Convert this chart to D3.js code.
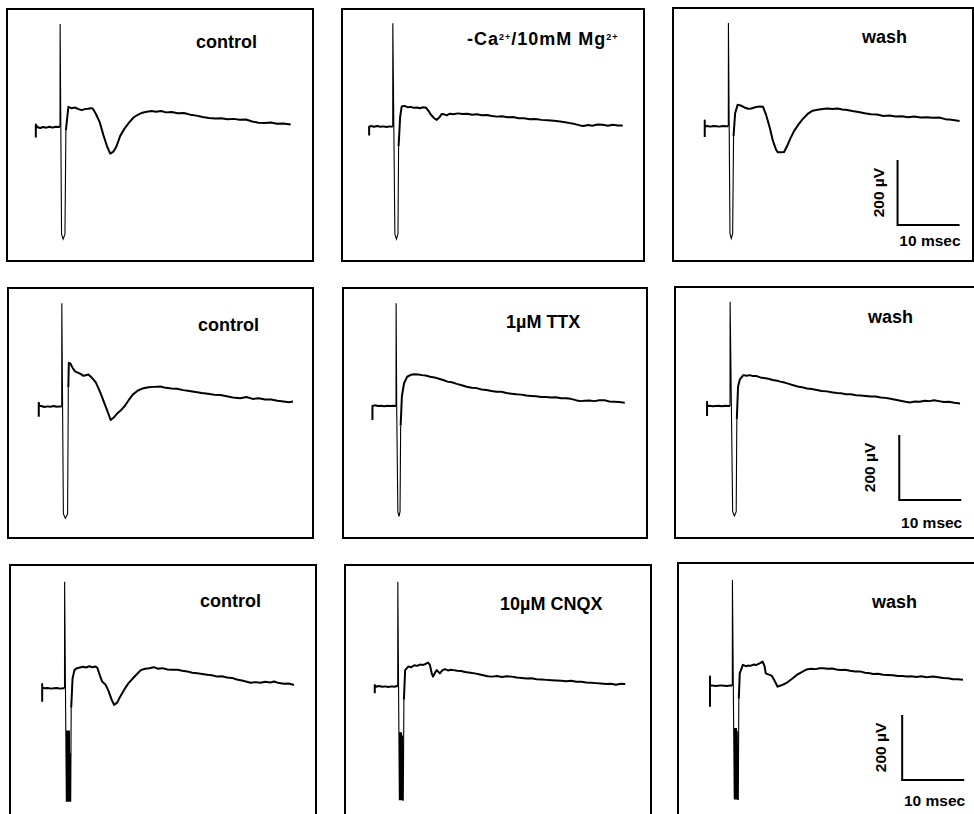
<!DOCTYPE html>
<html>
<head>
<meta charset="utf-8">
<script src="https://cdn.jsdelivr.net/npm/d3@7"></script>
<style>
body { margin: 0; background: #fff; }
svg { display: block; }
text { font-family: "Liberation Sans", Arial, Helvetica, sans-serif; font-weight: bold; fill: #000; }
</style>
</head>
<body>
<script>
// conditions, row by row (control / drug / wash)
var labels = ["control", "-Ca2+/10mM Mg2+", "wash",
              "control", "1\u00b5M TTX", "wash",
              "control", "10\u00b5M CNQX", "wash"];

// field potentials, [msec, µV], stimulus at t = 0; null = gap for the artifact
var traceCtl1 = [[-3.9,-32],[-3.9,8],[-3.7,0],[-3.2,-3],[-2.7,0],[-2.2,-2],[-1.7,1],[-1.2,-2],[-0.7,1],[-0.2,0],[0,2],null,
  [0.95,-10],[1.35,62],[1.8,58],[2.4,60],[3.0,55],[3.5,52],[4.0,55],[4.5,56],[5.0,58],[5.3,56],[5.8,40],[6.4,15],[7.0,-25],[7.6,-60],
  [8.1,-82],[8.6,-76],[9.1,-60],[9.7,-28],[10.4,-5],[11.2,15],[11.9,30],[12.6,38],[13.3,44],[14.0,47],[14.8,49],[15.5,47],[16.3,49],
  [17.1,45],[18.0,46],[19.0,42],[20.0,43],[21.0,38],[22.0,35],[23.0,31],[24.0,28],[25.0,26],[26.0,27],[27.0,24],[28.0,25],[29.0,22],
  [30.0,23],[31.0,17],[32.0,13],[33.0,12],[34.0,14],[35.0,10],[36.0,11],[37.2,8]];
var traceCaMg = [[-3.8,-27],[-3.8,0],[-3.5,2],[-3,0],[-2.5,2],[-2,0],[-1.5,1],[-1,-1],[-0.5,1],[0,0],null,
  [0.95,-60],[1.2,30],[1.45,62],[1.9,64],[2.4,60],[2.9,61],[3.4,58],[3.9,59],[4.4,57],[4.9,60],[5.4,58],[5.8,48],[6.2,36],[6.7,26],
  [7.1,21],[7.5,28],[7.9,39],[8.3,38],[8.7,35],[9.2,40],[9.8,38],[10.5,41],[11.3,39],[12.0,40],[12.8,37],[13.6,38],[14.4,35],[15.2,36],
  [16.0,33],[16.8,31],[17.6,32],[18.5,29],[19.4,30],[20.3,26],[21.2,26],[22.1,23],[23.0,24],[24.0,21],[25.0,20],[26.0,18],[27.0,16],
  [27.8,14],[28.6,11],[29.4,8],[30.2,4],[30.8,2],[31.5,5],[32.2,3],[33.0,7],[33.9,6],[34.7,3],[35.5,6],[36.3,4],[37.1,4]];
var traceWash1 = [[-3.8,-33],[-3.8,18],[-3.8,0],[-3.4,1],[-2.9,-1],[-2.4,1],[-1.9,0],[-1.4,-1],[-0.9,1],[-0.4,0],[0,0],null,
  [0.85,-30],[1.1,40],[1.5,66],[2.0,64],[2.6,58],[3.2,54],[3.7,55],[4.2,58],[4.7,60],[5.2,61],[5.6,60],[6.1,35],[6.7,-5],[7.2,-45],
  [7.7,-72],[8.0,-80],[8.5,-80],[9.0,-79],[9.5,-60],[10.0,-38],[10.6,-15],[11.3,5],[12.0,22],[12.8,38],[13.6,48],[14.4,51],[15.2,53],
  [16.0,55],[16.8,53],[17.6,55],[18.4,52],[19.2,50],[20.0,47],[21.0,44],[22.0,40],[23.0,37],[24.0,36],[25.0,32],[26.0,33],[27.0,30],
  [28.0,31],[29.0,28],[30.0,30],[31.0,27],[32.0,28],[33.0,26],[34.0,27],[35.0,22],[36.0,20],[37.3,16]];
var traceCtl2 = [[-3.7,-31],[-3.7,12],[-3.6,2],[-3.3,2],[-2.8,-1],[-2.3,1],[-1.8,0],[-1.3,2],[-0.8,0],[-0.3,1],[0,1],null,
  [1.07,60],[1.15,135],[1.4,133],[1.8,118],[2.2,108],[2.7,104],[3.1,100],[3.5,95],[3.9,97],[4.3,99],[4.7,92],[5.1,84],[5.5,75],[5.9,58],
  [6.3,40],[6.8,15],[7.3,-10],[7.9,-41],[8.3,-35],[8.9,-22],[9.5,-12],[10.2,3],[10.8,20],[11.5,38],[12.3,50],[13.2,57],[14.0,60],
  [14.9,61],[15.9,62],[16.8,58],[17.7,56],[18.6,55],[19.6,51],[20.6,48],[21.6,45],[22.6,42],[23.6,40],[24.6,37],[25.6,36],[26.6,32],
  [27.6,28],[28.8,26],[29.8,30],[30.8,24],[31.8,26],[32.8,22],[33.8,22],[34.8,18],[35.8,16],[36.6,14],[37.3,16]];
var traceTTX = [[-3.8,-43],[-3.8,0],[-3.4,2],[-2.9,0],[-2.4,1],[-1.9,-1],[-1.4,1],[-0.9,0],[-0.4,1],[0,0],null,
  [0.75,-60],[0.95,30],[1.3,70],[1.8,90],[2.4,96],[3.0,98],[3.6,97],[4.2,95],[4.8,94],[5.5,90],[6.2,88],[6.9,84],[7.6,80],[8.3,75],
  [9.0,73],[9.8,68],[10.6,64],[11.4,59],[12.2,56],[13.0,55],[13.8,51],[14.6,49],[15.4,46],[16.2,44],[17.0,44],[17.8,40],[18.6,38],
  [19.4,36],[20.2,35],[21.0,32],[21.8,31],[22.6,30],[23.4,28],[24.2,28],[25.0,26],[25.8,27],[26.6,24],[27.4,24],[28.2,22],[29.0,18],
  [29.7,15],[30.4,16],[31.2,17],[32.0,15],[32.8,18],[33.6,18],[34.4,14],[35.2,13],[36.0,12],[36.9,10]];
var traceWash2 = [[-3.7,-31],[-3.7,13],[-3.7,0],[-3.3,1],[-2.8,-1],[-2.3,0],[-1.8,1],[-1.3,-1],[-0.8,1],[-0.3,0],[0,0],null,
  [1.1,-40],[1.3,60],[1.6,82],[2.15,95],[2.7,93],[3.2,95],[3.7,92],[4.3,92],[4.9,88],[5.5,86],[6.2,84],[6.9,80],[7.6,78],[8.1,75],
  [8.8,72],[9.5,68],[10.2,64],[10.9,60],[11.6,58],[12.4,54],[13.2,52],[14.0,49],[14.8,46],[15.6,45],[16.4,42],[17.2,40],[17.9,39],
  [18.7,36],[19.5,36],[20.3,33],[21.1,32],[21.9,31],[22.7,29],[23.5,29],[24.3,26],[25.1,25],[25.9,22],[26.7,19],[27.5,16],[28.3,13],
  [29.0,11],[29.8,14],[30.6,13],[31.4,16],[32.2,15],[32.9,18],[33.7,15],[34.5,12],[35.3,13],[36.2,10],[37.1,8]];
var traceCtl3 = [[-3.6,-41],[-3.6,13],[-3.6,2],[-3.2,0],[-2.7,1],[-2.2,-1],[-1.7,0],[-1.2,1],[-0.7,-1],[-0.2,0],[0,0],null,
  [1.08,-60],[1.3,30],[1.6,56],[2.0,62],[2.5,64],[3.0,66],[3.5,64],[4.0,68],[4.5,65],[5.0,67],[5.3,63],[5.7,40],[6.1,20],[6.6,12],
  [7.1,-8],[7.6,-35],[8.0,-51],[8.5,-44],[9.0,-25],[9.6,-5],[10.3,15],[11.0,30],[11.7,44],[12.3,56],[13.0,60],[13.7,62],[14.4,65],
  [15.1,60],[15.8,62],[16.6,58],[17.4,57],[18.2,57],[19.0,54],[19.8,52],[20.6,48],[21.4,46],[22.2,44],[23.0,42],[23.8,40],[24.6,36],
  [25.4,37],[26.2,33],[27.0,32],[27.8,27],[28.6,24],[29.4,20],[30.0,17],[30.8,19],[31.6,17],[32.4,20],[33.2,18],[33.8,21],[34.6,16],
  [35.4,14],[36.2,15],[37.0,10]];
var traceCNQX = [[-3.7,-20],[-3.7,5],[-3.5,0],[-3.0,2],[-2.5,0],[-2.0,1],[-1.5,-1],[-1.0,1],[-0.5,0],[-0.2,2],[0,0],null,
  [1.0,-40],[1.2,51],[1.7,62],[2.2,60],[2.7,66],[3.1,64],[3.6,68],[4.1,67],[4.5,70],[4.9,74],[5.2,67],[5.5,40],[5.7,31],[6.0,42],
  [6.3,51],[6.8,41],[7.2,50],[7.6,54],[8.1,50],[8.6,52],[9.0,51],[9.6,49],[10.2,48],[10.9,45],[11.7,43],[12.4,41],[13.1,38],[13.8,35],
  [14.5,32],[15.2,31],[16.0,33],[16.8,30],[17.6,32],[18.4,31],[19.2,28],[20.0,27],[20.8,25],[21.6,26],[22.4,23],[23.2,22],[24.0,21],
  [24.8,20],[25.6,19],[26.4,18],[27.2,17],[28.0,18],[28.8,15],[29.6,15],[30.4,13],[31.2,12],[32.0,11],[32.8,10],[33.6,8],[34.4,9],
  [35.2,6],[36.0,9],[36.7,8]];
var traceWash3 = [[-3.6,-65],[-3.6,28],[-3.6,0],[-3.3,1],[-2.8,-1],[-2.3,0],[-1.8,1],[-1.3,0],[-0.8,-1],[-0.3,1],[0,0],null,
  [1.05,-40],[1.2,38],[1.7,64],[2.2,60],[2.6,62],[2.9,61],[3.4,65],[3.9,64],[4.4,69],[4.9,74],[5.2,60],[5.4,38],[5.9,34],[6.4,30],
  [6.9,12],[7.3,-3],[7.7,0],[8.0,2],[8.5,6],[9.0,12],[9.7,22],[10.4,33],[11.2,42],[12.0,50],[12.7,52],[13.4,51],[14.1,54],[14.7,54],
  [15.4,52],[16.1,53],[16.8,50],[17.4,48],[18.2,49],[19.0,46],[19.8,44],[20.6,44],[21.4,40],[22.2,38],[22.7,36],[23.5,37],[24.3,34],
  [25.1,33],[25.9,32],[26.7,30],[27.5,30],[28.1,28],[28.9,29],[29.7,27],[30.5,29],[31.3,26],[32.4,28],[33.2,26],[34.0,24],[34.8,23],
  [35.6,20],[36.4,20],[37.2,18]];

// stimulus artifacts, [msec, µV]
var stimCtl1 = [[0,2],[0.02,317],[0.25,-330],[0.5,-345],[0.8,-330],[0.95,-10]];
var stimCaMg = [[0,0],[0.02,318],[0.35,-330],[0.6,-346],[0.85,-330],[0.95,-60]];
var stimWash1 = [[0,0],[0.02,318],[0.27,-330],[0.48,-345],[0.7,-330],[0.85,-30]];
var stimCtl2 = [[0,1],[0.02,318],[0.27,-330],[0.6,-343],[0.95,-330],[1.07,60]];
var stimTTX = [[0,0],[0.02,316],[0.12,-20],[0.3,-325],[0.48,-340],[0.65,-325],[0.75,-60]];
var stimWash2 = [[0,0],[0.02,321],[0.43,-325],[0.7,-338],[1.0,-325],[1.1,-40]];
var stimCtl3 = [[0,0],[0.02,328],[0.3,-349],[0.37,-130],[0.44,-349],[0.51,-130],[0.58,-349],[0.65,-130],[0.72,-349],
  [0.79,-130],[0.86,-349],[0.93,-200],[1.0,-349],[1.08,-60]];
var stimCNQX = [[0,0],[0.02,323],[0.27,-349],[0.34,-140],[0.41,-349],[0.48,-140],[0.55,-349],[0.62,-140],[0.69,-349],
  [0.76,-150],[0.83,-349],[0.9,-349],[1.0,-40]];
var stimWash3 = [[0,0],[0.02,325],[0.32,-350],[0.39,-130],[0.46,-350],[0.53,-130],[0.6,-350],[0.67,-130],[0.74,-350],
  [0.81,-140],[0.88,-350],[0.97,-350],[1.05,-40]];

var traces = [traceCtl1, traceCaMg, traceWash1, traceCtl2, traceTTX, traceWash2, traceCtl3, traceCNQX, traceWash3];
var stimuli = [stimCtl1, stimCaMg, stimWash1, stimCtl2, stimTTX, stimWash2, stimCtl3, stimCNQX, stimWash3];

// calibration bar
var calTime = 10;   // msec
var calVolt = 200;  // µV
var calLabels = ["10 msec", "200 \u00b5V"];

// ---- layout (pixels) ----
var boxes = [[7,9,306,252],[342,9,302,252],[673,8,300,253],
             [8,288,305,250],[343,288,304,250],[675,287,300,251],
             [10,565,306,252],[345,565,306,252],[678,563,298,254]];
var origins = [[60,127],[392.7,126.7],[728.3,126.3],
               [61.7,406.7],[396,406],[730,406],
               [64.5,688.3],[397.7,686.7],[732.3,685.7]];
var labelPos = [[196,48],[467,45],[862,43],
                [198,331],[506,328],[868,323],
                [200,607],[500,610],[872,608]];
// per row: calibration corner [msec, µV] in the wash panel, µV-label gap, msec-label drop
var calPos = [[27.3,-304,14,21],[27.3,-289,24,28],[27.4,-290,16,26]];
var msPx = 6.2, uvPx = 0.325;

var svg = d3.select("body")
  .append("svg")
  .attr("width", 974)
  .attr("height", 814);

var line = d3.line()
  .defined(function(d){ return d !== null; });

traces.forEach(function(trace, i) {
    var o = origins[i];
    var x = d3.scaleLinear().domain([0, calTime]).range([o[0], o[0] + calTime*msPx]);
    var y = d3.scaleLinear().domain([0, calVolt]).range([o[1], o[1] - calVolt*uvPx]);
    line.x(function(d){ return x(d[0]); }).y(function(d){ return y(d[1]); });

    var g = svg.append("g").attr("class", "panel");
    var b = boxes[i];

    g.append("rect")
        .attr("x", b[0]).attr("y", b[1])
        .attr("width", b[2]).attr("height", b[3])
        .attr("fill", "none")
        .attr("stroke", "#000")
        .attr("stroke-width", 2);

    g.append("path")
        .attr("d", line(stimuli[i]))
        .attr("fill", "none")
        .attr("stroke", "#000")
        .attr("stroke-width", 1.1);

    g.append("path")
        .attr("d", line(trace))
        .attr("fill", "none")
        .attr("stroke", "#000")
        .attr("stroke-width", 2)
        .attr("stroke-linejoin", "round");

    var t = g.append("text")
        .attr("x", labelPos[i][0])
        .attr("y", labelPos[i][1])
        .attr("font-size", 18);
    var parts = labels[i].split("2+");
    if (parts.length > 1) {
        // Ca2+ / Mg2+ with small raised charges
        t.attr("letter-spacing", 1);
        parts.forEach(function(p, k) {
            if (p) t.append("tspan").text(p);
            if (k < parts.length - 1) {
                t.append("tspan").attr("font-size", 9).attr("baseline-shift", "55%").text("2+");
            }
        });
    } else {
        t.text(labels[i]);
    }

    if (i % 3 == 2) {
        var c = calPos[Math.floor(i / 3)];
        var x0 = x(c[0]), y0 = y(c[1]);
        g.append("path")
            .attr("d", "M" + x0 + "," + y(c[1] + calVolt) + "V" + y0 + "H" + x(c[0] + calTime))
            .attr("fill", "none")
            .attr("stroke", "#000")
            .attr("stroke-width", 2);
        g.append("text")
            .attr("x", x(c[0] + calTime) + 1)
            .attr("y", y0 + c[3])
            .attr("text-anchor", "end")
            .attr("font-size", 15.5)
            .text(calLabels[0]);
        g.append("text")
            .attr("transform", "translate(" + (x0 - c[2]) + "," + ((y0 + y(c[1] + calVolt)) / 2) + ") rotate(-90)")
            .attr("text-anchor", "middle")
            .attr("font-size", 15.5)
            .text(calLabels[1]);
    }
});
</script>
</body>
</html>
